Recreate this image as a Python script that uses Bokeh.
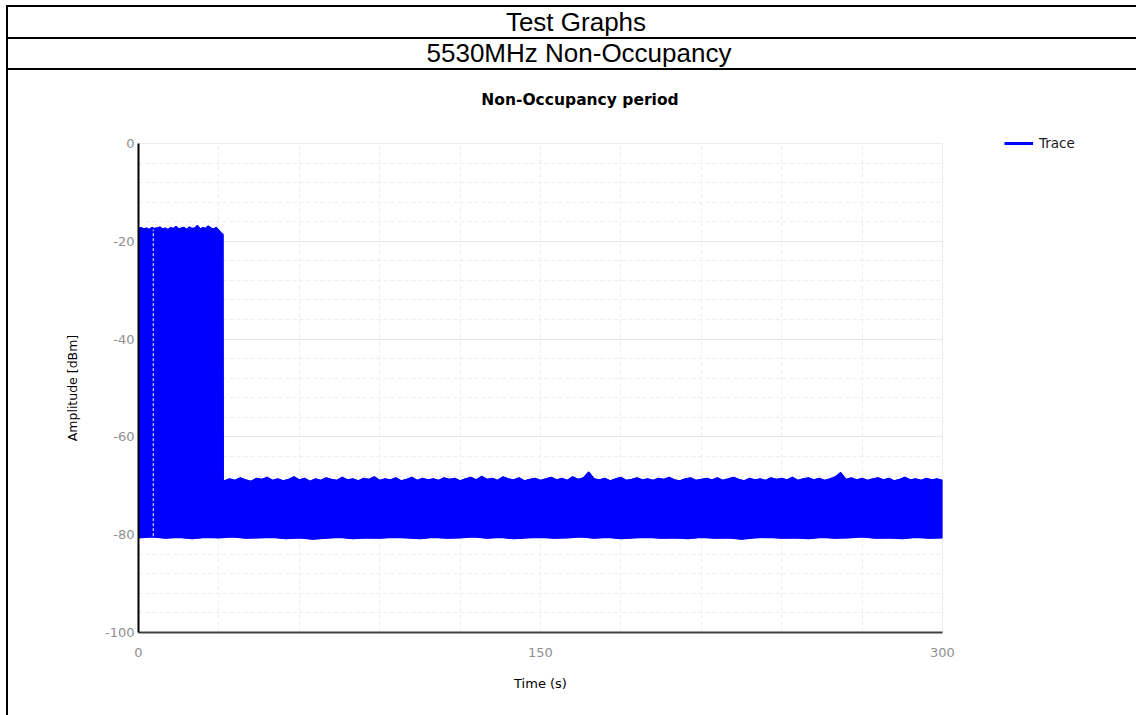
from bokeh.plotting import figure
from bokeh.models import (Range1d, SingleIntervalTicker, FixedTicker, Legend, LegendItem, Div,
                          PrintfTickFormatter)
from bokeh.layouts import row, column
from bokeh.embed import file_html
from bokeh.resources import INLINE

# ---------------- data ----------------
header_title = "Test Graphs"
header_subtitle = "5530MHz Non-Occupancy"
chart_title = "Non-Occupancy period"
x_label = "Time (s)"
y_label = "Amplitude [dBm]"
series_name = "Trace"

x_ticks = [0, 150, 300]
x_minor = [30, 60, 90, 120, 180, 210, 240, 270]

# upper envelope while the channel is occupied (0 .. 31.5 s)
hi_time = [0, 1, 2, 3, 4, 5, 6, 7, 8, 9, 10, 11, 12, 13, 14, 15, 16, 17, 18, 19,
           20, 21, 22, 23, 24, 25, 26, 27, 28, 29, 30, 31, 31.5]
hi_top = [-17.4, -17.2, -17.5, -17.3, -17.6, -17.2, -17.4, -17.3, -17.1, -17.5,
          -17.3, -17.6, -17.2, -17.4, -17.0, -17.5, -17.3, -17.2, -17.6, -17.1,
          -17.4, -17.3, -16.8, -17.5, -17.2, -17.4, -16.9, -17.3, -17.5, -17.2,
          -17.8, -18.4, -18.6]

# upper envelope after the channel was vacated (31.6 .. 300 s)
lo_time = [31.6] + list(range(32, 301, 2))
lo_top = [-70.4,
          -69.0, -68.6, -68.9, -68.4, -68.8, -69.1, -68.5, -68.7, -68.3, -68.9,
          -68.6, -69.0, -68.7, -68.2, -68.8, -68.5, -69.1, -68.6, -68.9, -68.4,
          -68.7, -68.9, -68.3, -68.8, -68.6, -69.0, -68.5, -68.7, -68.2, -68.9,
          -68.6, -68.8, -68.4, -69.0, -68.7, -68.3, -68.9, -68.5, -68.8, -68.6,
          -68.9, -68.4, -68.7, -68.5, -69.0, -68.6, -68.3, -68.8, -68.1, -68.7,
          -68.5, -68.9, -68.2, -68.6, -68.8, -68.4, -69.0, -68.7, -68.5, -68.9,
          -68.6, -68.3, -68.8, -68.5, -68.9, -68.2, -68.7, -68.4, -67.2, -68.6,
          -68.8, -68.5, -69.0, -68.6, -68.3, -68.9, -68.7, -68.4, -68.8, -68.6,
          -68.9, -68.5, -68.7, -68.3, -68.8, -69.0, -68.6, -68.4, -68.9, -68.7,
          -68.5, -68.8, -68.4, -68.9, -68.6, -68.3, -68.7, -69.0, -68.5, -68.8,
          -68.6, -68.9, -68.4, -68.7, -68.5, -68.8, -68.3, -68.9, -68.6, -68.4,
          -68.8, -68.5, -68.9, -68.6, -68.2, -67.3, -68.7, -68.4, -68.8, -68.5,
          -68.9, -68.6, -68.4, -68.8, -68.5, -69.0, -68.7, -68.3, -68.8, -68.6,
          -68.9, -68.5, -68.8, -68.6, -68.9]

# lower envelope (noise floor) over the whole record
floor_time = list(range(0, 301, 5))
floor_level = [-80.6, -80.4, -80.7, -80.5, -80.8, -80.5, -80.6, -80.4, -80.7, -80.6,
               -80.5, -80.8, -80.6, -80.9, -80.7, -80.5, -80.8, -80.6, -80.7, -80.5,
               -80.6, -80.8, -80.5, -80.7, -80.6, -80.4, -80.7, -80.5, -80.8, -80.6,
               -80.5, -80.7, -80.6, -80.4, -80.7, -80.5, -80.8, -80.6, -80.5, -80.7,
               -80.6, -80.8, -80.5, -80.7, -80.6, -80.9, -80.6, -80.5, -80.7, -80.6,
               -80.8, -80.5, -80.7, -80.6, -80.4, -80.7, -80.6, -80.8, -80.5, -80.7,
               -80.6]

# short gap in the record (drawn white dashed)
gap_time = [5.5]
gap_low = [-80.3]
gap_high = [-17.6]

# ---------------- styles ----------------
BLUE = "#0000ff"
FONT = "DejaVu Sans"

# ---------------- header (table rows + chart title) ----------------
line = "position:absolute;background:#000;"
header_html = f"""
<div style="position:relative;width:1136px;height:115px;overflow:hidden;color:#000;
            font-family:'Liberation Sans',Arial,sans-serif;">
  <div style="{line}left:6px;top:5px;width:1130px;height:1.5px;"></div>
  <div style="{line}left:6px;top:37px;width:1130px;height:1.5px;"></div>
  <div style="{line}left:6px;top:68px;width:1130px;height:1.5px;"></div>
  <div style="{line}left:6px;top:5px;width:1.5px;height:110px;"></div>
  <div style="position:absolute;left:376px;top:6px;width:400px;text-align:center;
              font-size:26px;line-height:32px;white-space:nowrap;">{header_title}</div>
  <div style="position:absolute;left:379px;top:37px;width:400px;text-align:center;
              font-size:26px;line-height:32px;white-space:nowrap;">{header_subtitle}</div>
  <div style="position:absolute;left:380px;top:90px;width:400px;text-align:center;
              font-family:'DejaVu Sans';font-weight:bold;font-size:15.5px;line-height:20px;
              white-space:nowrap;">{chart_title}</div>
</div>
"""
header = Div(text=header_html, width=1136, height=115, margin=0)

left_rule = Div(text='<div style="margin-left:6px;width:1.5px;height:600px;background:#000;"></div>',
                width=8, height=600, margin=0)

# ---------------- chart ----------------
p = figure(width=954, height=600, x_range=Range1d(0, 300), y_range=Range1d(-100, 0),
           toolbar_location=None, output_backend="svg",
           min_border_left=130, min_border_right=20, min_border_top=28, min_border_bottom=83)

p.outline_line_color = "#ececec"
p.background_fill_color = "white"

p.xaxis.ticker = FixedTicker(ticks=x_ticks, minor_ticks=x_minor)
p.yaxis.ticker = SingleIntervalTicker(interval=20, num_minor_ticks=5)
p.yaxis.formatter = PrintfTickFormatter(format="%d")

for ax in (p.xaxis, p.yaxis):
    ax.major_tick_line_color = None
    ax.minor_tick_line_color = None
    ax.major_tick_out = 0
    ax.minor_tick_out = 0
    ax.major_label_text_font = FONT
    ax.major_label_text_font_size = "13px"
    ax.major_label_text_color = "#8f8f8f"
    ax.axis_label_text_font = FONT
    ax.axis_label_text_font_style = "normal"
    ax.axis_label_text_color = "black"
p.xaxis.axis_label_text_font_size = "13px"
p.yaxis.axis_label_text_font_size = "12.5px"
p.xaxis.axis_label = x_label
p.yaxis.axis_label = y_label
p.xaxis.axis_line_color = "#404040"
p.xaxis.axis_line_width = 2
p.yaxis.axis_line_color = "black"
p.yaxis.axis_line_width = 2
p.xaxis.major_label_standoff = 15
p.yaxis.major_label_standoff = 4
p.xaxis.axis_label_standoff = 16
p.yaxis.axis_label_standoff = 22

p.ygrid.grid_line_color = "#e6e6e6"
p.ygrid.minor_grid_line_color = "#ededed"
p.ygrid.minor_grid_line_dash = "4 3"
p.xgrid.grid_line_color = "#ededed"
p.xgrid.grid_line_dash = "4 3"
p.xgrid.minor_grid_line_color = "#ededed"
p.xgrid.minor_grid_line_dash = "4 3"

band_x = hi_time + lo_time + floor_time[::-1]
band_y = hi_top + lo_top + floor_level[::-1]
p.patch(band_x, band_y, fill_color=BLUE, line_color=BLUE, line_width=1)
p.line(hi_time + lo_time, hi_top + lo_top, line_color=BLUE, line_width=1.5)
p.line(floor_time, floor_level, line_color=BLUE, line_width=1.5)
p.segment(x0=gap_time, y0=gap_low, x1=gap_time, y1=gap_high,
          line_color="white", line_width=1, line_dash="3 2")

# ---------------- legend (outside the plot area, to the right) ----------------
lg = figure(width=174, height=600, x_range=Range1d(0, 1), y_range=Range1d(0, 1),
            toolbar_location=None, output_backend="svg",
            min_border_left=0, min_border_right=0, min_border_top=20, min_border_bottom=83,
            x_axis_type=None, y_axis_type=None, outline_line_color=None)
lg.grid.grid_line_color = None
# legend key only: a one-point line draws nothing in this panel
legend_line = lg.line(x=[0], y=[0], line_color=BLUE, line_width=3)
legend = Legend(items=[LegendItem(label=series_name, renderers=[legend_line])],
                location=(42, 481), padding=0, margin=0, spacing=0,
                glyph_width=29, glyph_height=16, label_standoff=6,
                border_line_color=None, background_fill_alpha=0,
                label_text_font=FONT, label_text_font_size="13.5px", label_text_color="#1a1a1a")
lg.add_layout(legend)

layout = column(header, row(left_rule, p, column(lg)))

open("out.html", "w").write(file_html(layout, INLINE))
